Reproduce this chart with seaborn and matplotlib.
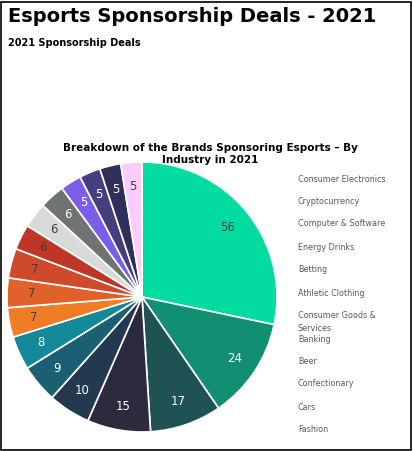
import matplotlib
matplotlib.use("Agg")
import matplotlib.pyplot as plt
import seaborn as sns

values = [56, 24, 17, 15, 10, 9, 8, 7, 7, 7, 6, 6, 6, 5, 5, 5, 5]
colors = ["#02DCA0", "#128F72", "#1F5252", "#2E2A3E", "#23394F", "#1B5F72", "#14899A",
          "#F07D25", "#E0622A", "#CF4A2A", "#BF3526", "#D9D9D9", "#6E7473",
          "#7B5EE8", "#453F7F", "#2F2F5A", "#FDCBFD"]
label_colors = ["#404040", "white", "white", "white", "white", "white", "white",
                "#404040", "#404040", "#404040", "#404040", "#404040", "white",
                "white", "white", "white", "#404040"]
legend_labels = ["Consumer Electronics", "Cryptocurrency", "Computer & Software",
                 "Energy Drinks", "Betting", "Athletic Clothing",
                 "Consumer Goods &\nServices", "Banking", "Beer", "Confectionary",
                 "Cars", "Fashion"]
legend_y = [179, 201, 224, 247, 270, 293, 322, 339, 361, 384, 407, 430]

sns.set_theme(style="white")
plt.rcParams['font.family'] = ['DejaVu Sans']
W, H = 413, 451
fig = plt.figure(figsize=(W/100, H/100), dpi=100)
fig.patch.set_facecolor("white")

ax = fig.add_axes([7/W, 1-432/H, 270/W, 270/H])
wedges, texts = ax.pie(values, colors=colors, startangle=90, counterclock=False,
                       wedgeprops=dict(edgecolor="white", linewidth=1.2),
                       labels=[str(v) for v in values], labeldistance=0.82,
                       textprops=dict(fontsize=8.5))
for t, c in zip(texts, label_colors):
    t.set_color(c)
    t.set_ha("center"); t.set_va("center")
ax.set_xlim(-1.0, 1.0)
ax.set_ylim(-1.0, 1.0)
ax.set_aspect("equal")
ax.axis("off")

fig.text(8/W, 1-17/H, "Esports Sponsorship Deals - 2021", fontsize=14, fontweight="bold",
         va="center", color="black")
fig.text(8/W, 1-43/H, "2021 Sponsorship Deals", fontsize=7, fontweight="bold", va="center", color="black")
fig.text(210/W, 1-154/H, "Breakdown of the Brands Sponsoring Esports – By\nIndustry in 2021",
         fontsize=7.5, fontweight="bold", ha="center", va="center", linespacing=1.3, color="black")
for lab, y in zip(legend_labels, legend_y):
    fig.text(298/W, 1-y/H, lab, fontsize=5.8, color="#595959", va="center", linespacing=1.5)

border = plt.Rectangle((1/W, 1/H), (W-3)/W, (H-3)/H, transform=fig.transFigure,
                       fill=False, edgecolor="black", linewidth=1.2)
fig.patches.append(border)
fig.savefig("out.png", dpi=100)
